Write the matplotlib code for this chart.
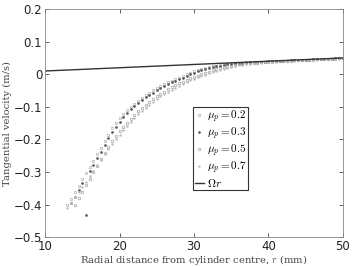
import numpy as np
import matplotlib
matplotlib.use("Agg")
import matplotlib.pyplot as plt

plt.rcParams["mathtext.fontset"] = "cm"

# radial positions (mm), shared by all four series
r = [13.0, 13.5, 14.0, 14.5, 15.0, 15.5, 16.0, 16.5, 17.0, 17.5,
     18.0, 18.5, 19.0, 19.5, 20.0, 20.5, 21.0, 21.5, 22.0, 22.5,
     23.0, 23.5, 24.0, 24.5, 25.0, 25.5, 26.0, 26.5, 27.0, 27.5,
     28.0, 28.5, 29.0, 29.5, 30.0, 30.5, 31.0, 31.5, 32.0, 32.5,
     33.0, 33.5, 34.0, 34.5, 35.0, 35.5, 36.0, 36.5, 37.0, 37.5,
     38.0, 38.5, 39.0, 39.5, 40.0, 40.5, 41.0, 41.5, 42.0, 42.5,
     43.0, 43.5, 44.0, 44.5, 45.0, 45.5, 46.0, 46.5, 47.0, 47.5,
     48.0, 48.5, 49.0, 49.5, 50.0]

tail = [0.038, 0.039, 0.039, 0.040, 0.040, 0.041, 0.041, 0.042, 0.042, 0.043,
        0.043, 0.044, 0.044, 0.045, 0.045, 0.046, 0.046, 0.047, 0.047, 0.048,
        0.048, 0.049, 0.049, 0.050]

v_02 = [-0.400, -0.382, -0.362, -0.342, -0.322, -0.303, -0.285, -0.265, -0.245, -0.225,
        -0.205, -0.185, -0.166, -0.150, -0.135, -0.122, -0.110, -0.100, -0.090, -0.081,
        -0.072, -0.064, -0.056, -0.049, -0.043, -0.037, -0.031, -0.025, -0.020, -0.015,
        -0.010, -0.005, 0.000, 0.005, 0.009, 0.013, 0.016, 0.019, 0.022, 0.024,
        0.026, 0.028, 0.030, 0.032, 0.033, 0.034, 0.035, 0.036, 0.037, 0.037,
        0.038] + tail

v_03 = [np.nan, -0.395, -0.375, -0.355, -0.335, -0.432, -0.297, -0.277, -0.257, -0.237,
        -0.217, -0.197, -0.178, -0.161, -0.146, -0.132, -0.119, -0.108, -0.098, -0.088,
        -0.079, -0.071, -0.063, -0.056, -0.049, -0.043, -0.037, -0.031, -0.025, -0.020,
        -0.015, -0.010, -0.005, 0.000, 0.005, 0.009, 0.013, 0.016, 0.019, 0.022,
        0.024, 0.026, 0.028, 0.030, 0.031, 0.033, 0.034, 0.035, 0.036, 0.037,
        0.037] + tail

v_05 = [np.nan, np.nan, -0.400, -0.380, -0.360, -0.340, -0.320, -0.300, -0.280, -0.260,
        -0.240, -0.222, -0.205, -0.190, -0.175, -0.161, -0.148, -0.136, -0.124, -0.113,
        -0.103, -0.094, -0.085, -0.076, -0.068, -0.060, -0.053, -0.046, -0.040, -0.034,
        -0.028, -0.023, -0.018, -0.013, -0.008, -0.004, 0.000, 0.004, 0.008, 0.012,
        0.015, 0.018, 0.021, 0.024, 0.026, 0.028, 0.030, 0.032, 0.033, 0.034,
        0.035, 0.036, 0.037, 0.038, 0.039, 0.039, 0.040, 0.041, 0.041, 0.042,
        0.042, 0.043, 0.043, 0.044, 0.044, 0.045, 0.045, 0.046, 0.046, 0.047,
        0.047, 0.048, 0.048, 0.049, 0.049]

v_07 = [-0.410, -0.395, -0.378, -0.362, -0.346, -0.330, -0.313, -0.296, -0.279, -0.262,
        -0.246, -0.230, -0.214, -0.199, -0.185, -0.171, -0.158, -0.146, -0.134, -0.123,
        -0.112, -0.102, -0.093, -0.084, -0.076, -0.068, -0.060, -0.053, -0.047, -0.041,
        -0.035, -0.029, -0.024, -0.019, -0.014, -0.009, -0.005, -0.001, 0.003, 0.007,
        0.011, 0.014, 0.017, 0.020, 0.023, 0.025, 0.027, 0.029, 0.031, 0.032,
        0.034, 0.035, 0.036, 0.037, 0.038, 0.039, 0.039, 0.040, 0.041, 0.041,
        0.042, 0.042, 0.043, 0.043, 0.044, 0.044, 0.045, 0.045, 0.046, 0.046,
        0.047, 0.047, 0.048, 0.048, 0.049]

# rigid rotation line, Omega * r
r_line = [10, 50]
v_line = [0.010, 0.050]

fig = plt.figure(figsize=(3.52, 2.66), dpi=100)
ax = fig.add_axes([0.128, 0.108, 0.846, 0.858])

ax.plot(r, v_02, linestyle="none", marker="s", markersize=1.5, mfc="none",
        mec="#a8a8a8", mew=0.45, label=r"$\mu_p = 0.2$")
ax.plot(r, v_03, linestyle="none", marker=".", markersize=1.8,
        color="#555555", label=r"$\mu_p = 0.3$")
ax.plot(r, v_05, linestyle="none", marker="o", markersize=1.9, mfc="none",
        mec="#999999", mew=0.45, label=r"$\mu_p = 0.5$")
ax.plot(r, v_07, linestyle="none", marker=".", markersize=1.5,
        color="#bbbbbb", label=r"$\mu_p = 0.7$")
ax.plot(r_line, v_line, color="#333333", linewidth=1.0, label=r"$\Omega r$")

ax.set_xlim(10, 50)
ax.set_ylim(-0.5, 0.2)
ax.set_xticks([10, 20, 30, 40, 50])
ax.set_yticks([-0.5, -0.4, -0.3, -0.2, -0.1, 0, 0.1, 0.2])
ax.set_yticklabels(["\u22120.5", "\u22120.4", "\u22120.3", "\u22120.2", "\u22120.1",
                    "0", "0.1", "0.2"])
ax.tick_params(direction="in", top=True, right=True, length=3, width=0.5,
               labelsize=8.5, pad=2, colors="#222222")
for s in ax.spines.values():
    s.set_linewidth(0.6)
    s.set_color("#888888")

ax.set_xlabel(r"Radial distance from cylinder centre, $r$ (mm)",
              family="DejaVu Serif", fontsize=7.2, color="#444444", labelpad=0)
ax.set_ylabel("Tangential velocity (m/s)", family="DejaVu Serif",
              fontsize=7.2, color="#444444", labelpad=1)

leg = ax.legend(loc="upper left", bbox_to_anchor=(0.497, 0.572), fontsize=8,
                fancybox=False, edgecolor="#333333", framealpha=1,
                handlelength=0.8, handletextpad=0.3, borderpad=0.15,
                labelspacing=0.05, borderaxespad=0, markerscale=1.0)
leg.get_frame().set_linewidth(0.8)

fig.savefig("out.png", dpi=100)
